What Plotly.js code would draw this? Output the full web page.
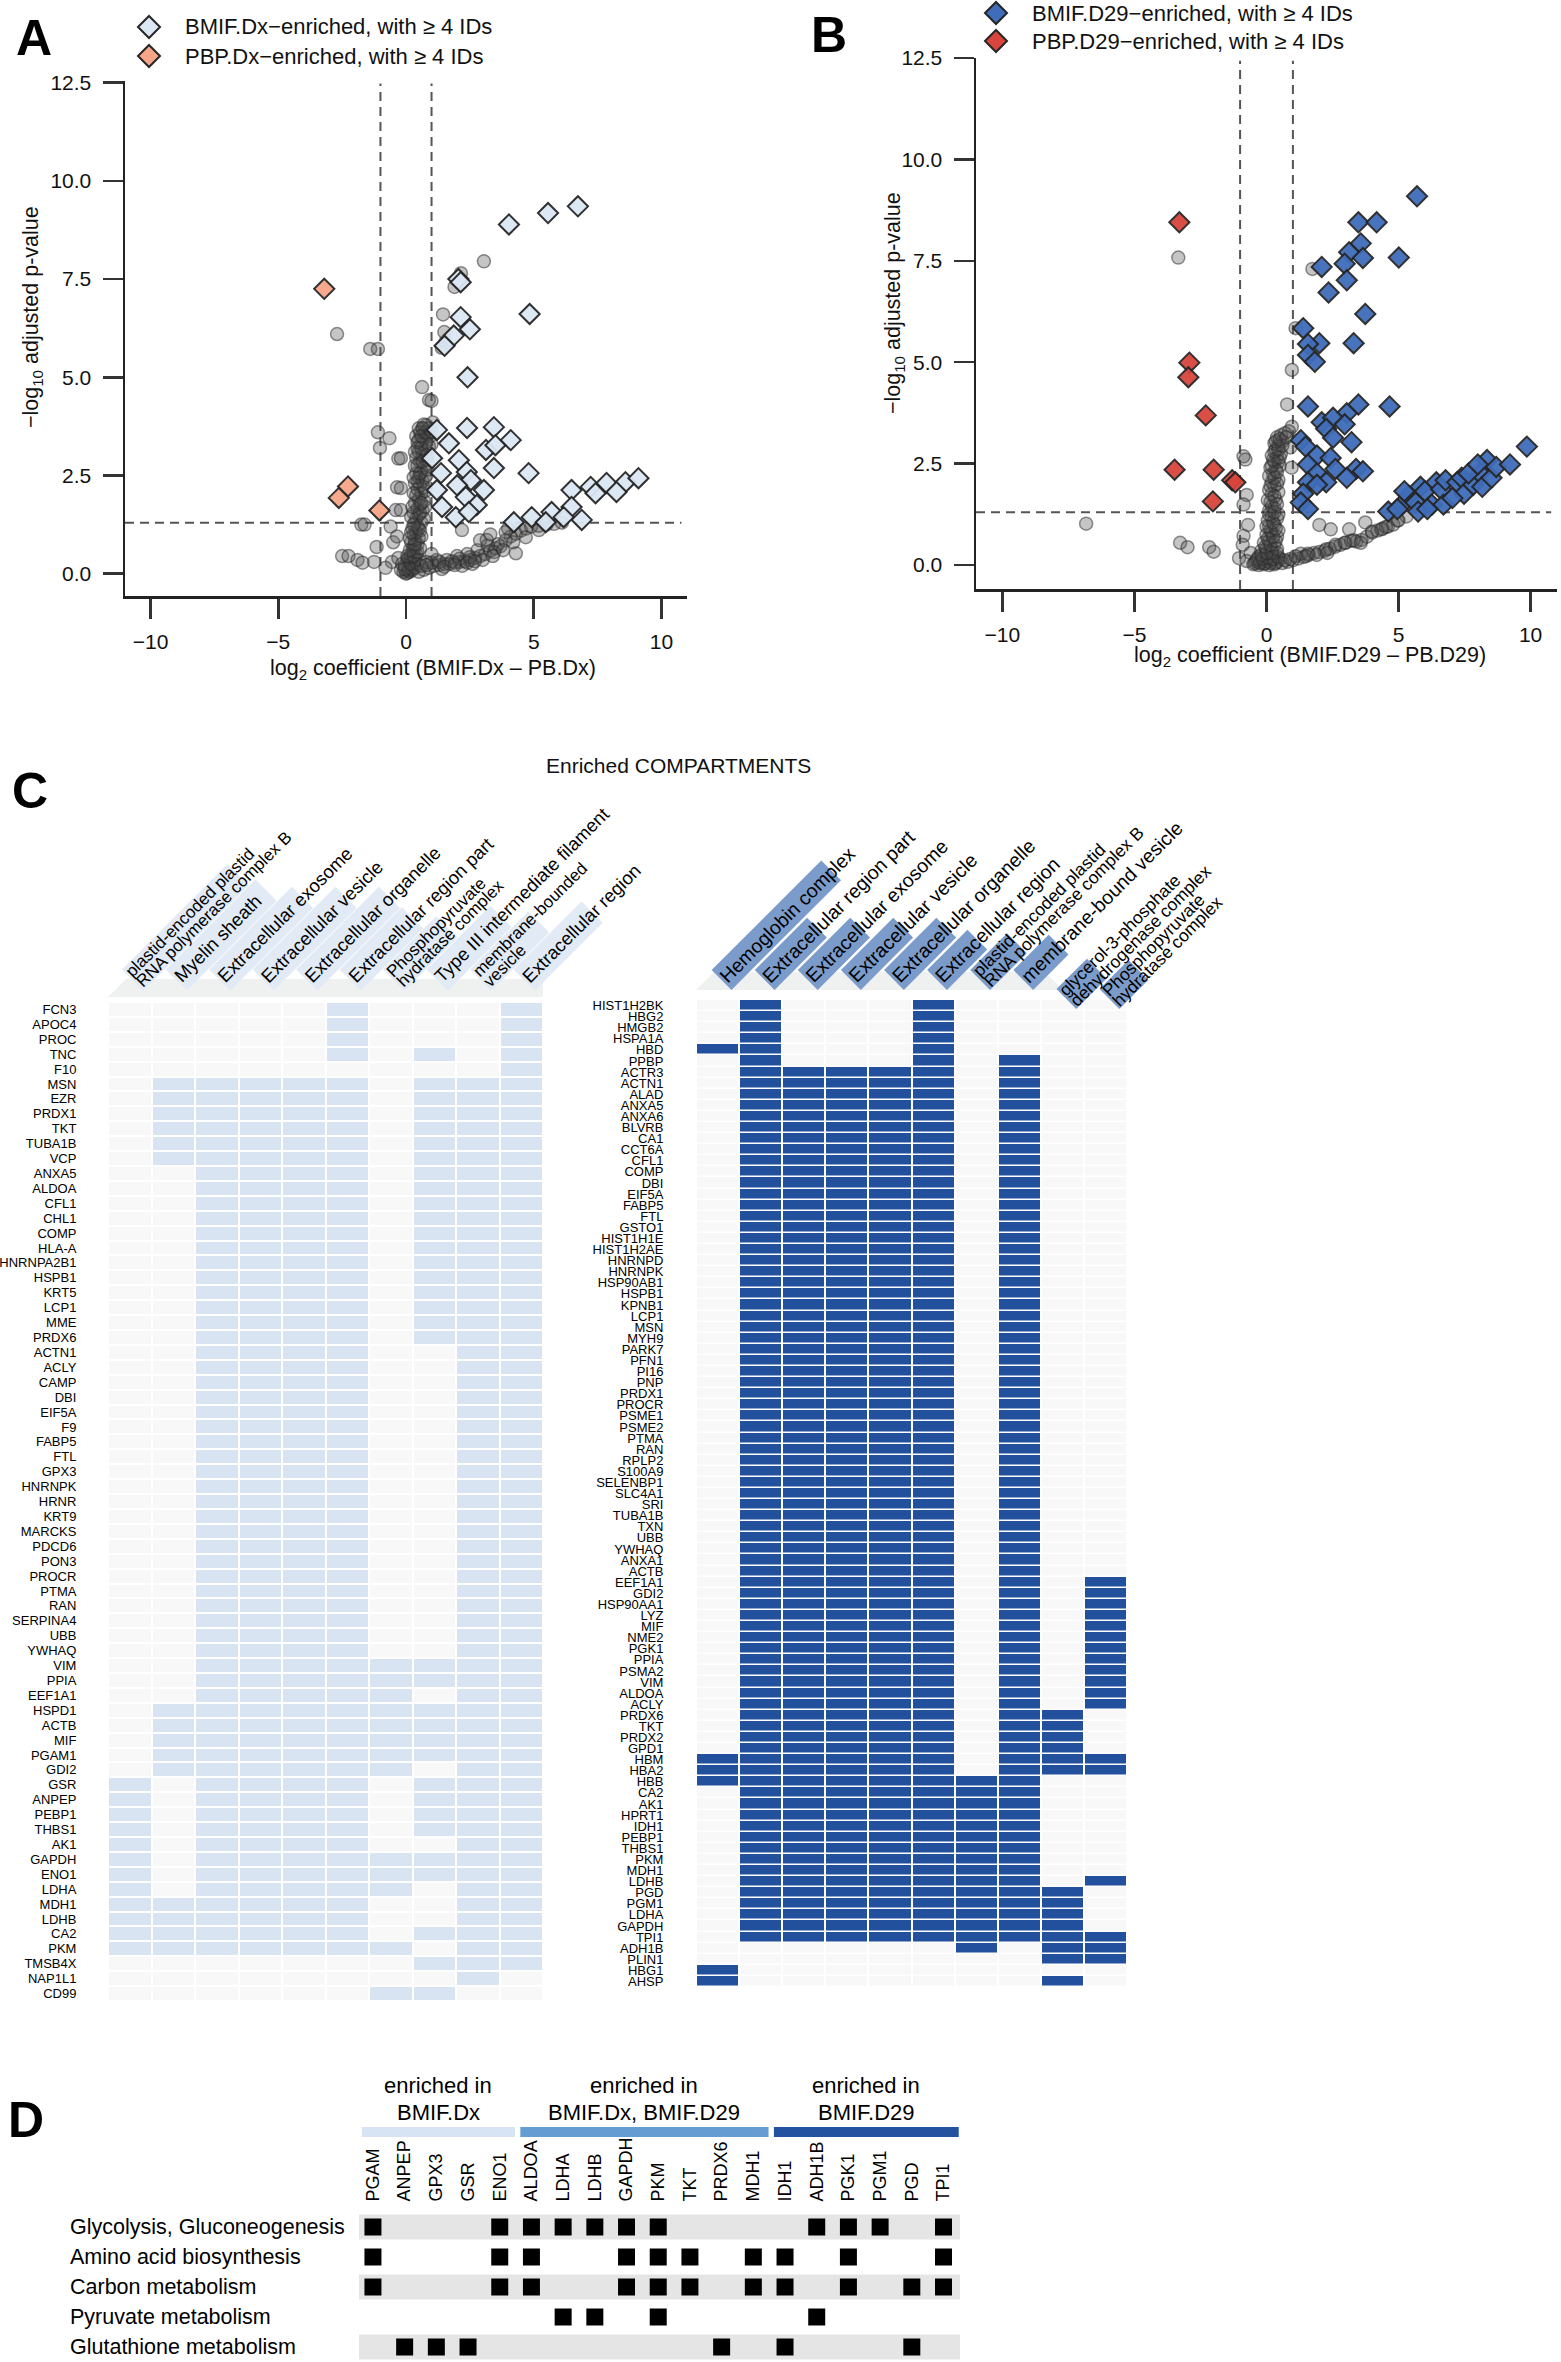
<!DOCTYPE html>
<html><head><meta charset="utf-8">
<script src="https://cdn.plot.ly/plotly-3.0.1.min.js"></script>
<style>body{margin:0;background:#fff}</style>
</head><body><div id="fig" style="width:1561px;height:2362px"></div>
<script>
const W=1561,H=2362;
const FONT='Liberation Sans, Arial, Helvetica, sans-serif';

// ---------------- Panel A data (BMIF.Dx - PB.Dx) ----------------
const aGrey=[[-2.7,6.1],[-1.4,5.72],[-1.1,5.72],[-1.1,3.6],[-1.02,3.2],[-0.65,3.45],[-0.3,2.93],[-0.35,2.2],[-0.4,1.62],[-0.2,2.94],[-0.2,2.18],[-0.2,1.62],[-1.75,1.25],[-1.62,1.25],[-1.15,0.68],[-2.5,0.45],[-2.25,0.45],[-1.9,0.35],[-1.7,0.28],[-1.25,0.3],[-0.6,1.2],[-0.5,0.8],[-0.35,0.95],[-0.55,0.3],[-0.3,0.4],[-0.8,0.15],
[0.63,4.75],[0.9,4.42],[1.0,4.4],[0.65,3.7],[0.8,3.78],[1.05,3.85],[1.45,6.6],[1.5,6.15],[1.4,5.75],[1.55,5.9],[1.9,7.3],[2.15,7.65],[3.05,7.95],
[0,0],[0.05,0.02],[-0.1,0.05],[0.15,0.05],[-0.2,0.1],[0.2,0.12],[0.1,0.15],[-0.05,0.2],[0.25,0.2],[0.3,0.28],[0.15,0.3],[0.05,0.35],[0.35,0.4],[0.2,0.45],[0.4,0.5],[0.25,0.6],[0.3,0.7],[0.45,0.75],[0.2,0.8],[0.35,0.85],[0.5,0.9],[0.3,1.0],[0.4,1.05],[0.55,1.1],[0.25,1.15],[0.45,1.2],[0.35,1.3],[0.6,1.3],[0.4,1.4],[0.5,1.5],[0.3,1.55],[0.65,1.6],[0.45,1.65],[0.55,1.75],[0.35,1.8],[0.7,1.85],[0.5,1.9],[0.4,2.0],[0.6,2.05],[0.75,2.1],[0.45,2.15],[0.55,2.25],[0.35,2.3],[0.65,2.35],[0.5,2.45],[0.8,2.5],[0.4,2.55],[0.6,2.6],[0.7,2.7],[0.45,2.75],[0.55,2.85],[0.85,2.9],[0.4,2.95],[0.65,3.0],[0.5,3.1],[0.75,3.15],[0.45,3.2],[0.9,3.25],[0.6,3.3],[0.5,3.4],[0.7,3.45],[0.4,3.5],[0.85,3.55],[0.55,3.6],[0.65,3.7],[0.95,3.5],[1.0,3.3],[0.3,0.55],[0.1,0.4],[-0.15,0.25],
[0.1,0.08],[0.25,0.1],[-0.05,0.12],[0.35,0.15],[0.45,0.25],[0.2,0.25],[0.5,0.35],[0.05,0.45],[0.3,0.45],[0.45,0.55],[0.15,0.6],[0.55,0.65],[0.35,0.75],[0.15,0.9],[0.6,0.95],[0.2,1.05],[0.5,1.15],[0.3,1.25],[0.7,1.4],[0.2,1.45],[0.55,1.55],[0.75,1.7],[0.25,1.7],[0.6,1.8],[0.3,2.05],[0.7,2.2],[0.45,2.35],[0.75,2.45],[0.3,2.45],[0.55,2.55],[0.85,2.65],[0.35,2.75],[0.65,2.85],[0.8,3.0],[0.35,3.1],[0.6,3.2],[0.8,3.35],[0.45,3.35],[0.6,3.5],[0.75,3.6],[0.5,3.7],[0.9,3.7],[1.0,3.6],[0.7,3.8],
[0.5,0.05],[0.7,0.1],[0.9,0.15],[1.1,0.2],[1.3,0.22],[1.5,0.25],[1.7,0.25],[1.9,0.28],[2.1,0.3],[2.3,0.32],[2.5,0.35],[2.7,0.4],[2.9,0.45],[3.1,0.5],[3.3,0.58],[3.5,0.65],[3.7,0.7],[3.6,0.75],[3.9,0.85],[4.1,0.95],[4.3,1.02],[4.5,1.1],[4.7,1.15],[4.9,1.2],[5.2,1.22],[5.5,1.25],[5.8,1.27],[6.1,1.3],[1.2,0.35],[1.6,0.35],[2.0,0.45],[2.4,0.5],[2.8,0.6],[3.2,0.72],[2.2,0.2],[2.6,0.25],[3.0,0.35],[4.3,0.52],[3.45,0.55],[1.0,0.5],[0.8,0.3],[2.9,0.85],[3.3,1.0],[4.0,1.15],[1.4,0.12],[2.19,1.11],[3.9,1.06],[4.69,0.93],[5.2,1.11],[3.16,0.86],
[1.0,0.28],[1.3,0.3],[1.8,0.32],[2.1,0.38],[2.5,0.42],[0.6,0.2],[0.8,0.22],[1.5,0.18],[1.9,0.22],[2.4,0.28],[2.7,0.32],[3.4,0.45],[3.8,0.6],[4.2,0.8]];
const aBMIF=[[6.73,9.35],[5.56,9.18],[4.03,8.89],[2.05,7.5],[2.14,7.42],[4.84,6.61],[2.14,6.53],[2.5,6.22],[1.87,6.06],[1.51,5.8],[2.41,5.0],
[2.39,3.71],[3.44,3.73],[4.1,3.4],[1.21,3.66],[1.68,3.32],[3.13,3.15],[3.5,3.27],[1.02,2.94],[2.07,2.89],[3.44,2.69],[2.38,2.59],[1.37,2.56],[4.8,2.56],[2.54,2.38],[2.0,2.25],[3.05,2.13],[1.21,2.13],[2.34,1.95],[1.41,1.7],[2.77,1.75],[1.95,1.44],[2.46,1.57],
[6.48,2.13],[7.23,2.21],[7.85,2.31],[8.59,2.33],[9.1,2.43],[7.42,2.05],[8.24,2.08],[4.22,1.31],[4.92,1.44],[5.7,1.57],[6.48,1.7],[6.88,1.37],[5.47,1.31],[6.17,1.44]];
const aPBP=[[-3.2,7.25],[-2.27,2.22],[-2.63,1.93],[-1.04,1.61]];

// ---------------- Panel B data (BMIF.D29 - PB.D29) ----------------
const bGrey=[[-3.34,7.58],[1.74,7.3],[1.1,5.84],[0.96,4.81],[0.78,3.96],[0.96,3.41],[-0.87,2.68],[-0.8,2.6],[-0.75,1.73],[-0.87,1.49],[-6.83,1.02],[-3.27,0.55],[-2.99,0.44],[-2.17,0.44],[-2.0,0.33],[-0.87,0.72],[-0.7,0.99],[-1.04,0.17],[-0.9,0.5],[-0.6,0.3],[-0.75,0.1],
[-0.5,0.02],[-0.3,0.0],[-0.1,0.02],[0.1,0.0],[0.3,0.02],[-0.4,0.1],[-0.2,0.08],[0,0.1],[0.2,0.12],[0.4,0.08],[-0.3,0.2],[-0.1,0.22],[0.1,0.25],[0.3,0.2],[0.5,0.15],[-0.2,0.35],[0,0.4],[0.2,0.38],[0.4,0.3],[-0.1,0.55],[0.1,0.6],[0.3,0.5],[0,0.75],[0.2,0.8],[0.4,0.7],[0.1,0.95],[0.3,1.0],[0.05,1.1],[0.2,1.2],[0.4,1.15],[0.1,1.35],[0.3,1.4],[0.15,1.55],[0.35,1.6],[0.2,1.75],[0.45,1.8],[0.1,1.85],[0.3,1.95],[0.2,2.05],[0.45,2.1],[0.25,2.25],[0.35,2.35],[0.15,2.4],[0.5,2.45],[0.3,2.55],[0.4,2.65],[0.2,2.7],[0.55,2.75],[0.35,2.85],[0.45,2.95],[0.3,3.0],[0.6,3.05],[0.4,3.15],[0.55,3.2],[0.7,3.25],[0.85,3.3],[0.9,2.9],[0.95,2.4],
[-0.45,0.05],[-0.25,0.05],[-0.05,0.05],[0.15,0.05],[0.35,0.05],[-0.35,0.15],[-0.15,0.15],[0.05,0.18],[0.25,0.15],[0.45,0.2],[-0.2,0.25],[0,0.3],[0.2,0.3],[0.4,0.4],[-0.05,0.45],[0.15,0.5],[0.35,0.6],[0.05,0.65],[0.25,0.7],[0.45,0.85],[0.15,0.85],[0.35,0.9],[0.0,0.95],[0.25,1.05],[0.45,1.25],[0.1,1.25],[0.3,1.3],[0.2,1.45],[0.4,1.5],[0.05,1.6],[0.3,1.7],[0.15,1.95],[0.4,2.0],[0.3,2.15],[0.1,2.2],[0.4,2.3],[0.2,2.45],[0.45,2.55],[0.25,2.6],[0.5,2.65],[0.3,2.8],[0.45,2.85],[0.6,2.95],[0.35,3.05],[0.5,3.1],[0.75,3.15],
[0.6,0.05],[0.8,0.08],[1.0,0.12],[1.2,0.16],[1.4,0.2],[1.6,0.25],[1.8,0.3],[2.0,0.32],[2.2,0.35],[2.4,0.4],[2.6,0.45],[2.8,0.5],[3.0,0.55],[3.2,0.6],[3.4,0.58],[3.6,0.62],[3.8,0.7],[4.0,0.8],[4.2,0.85],[4.4,0.9],[4.6,0.95],[4.8,1.0],[5.0,1.1],[5.3,1.2],[1.3,0.28],[1.57,0.28],[2.0,0.99],[2.26,0.39],[2.43,0.88],[2.61,0.5],[2.96,0.55],[3.13,0.88],[3.3,0.61],[3.57,0.55],[3.74,1.05],[4.0,0.83],[4.35,0.88],[4.52,0.94],[4.96,1.1],
[0.7,0.12],[0.9,0.15],[1.1,0.22],[1.5,0.22],[1.9,0.25],[2.3,0.3]];
const bBMIF=[[5.7,9.09],[3.48,8.45],[4.17,8.45],[3.57,7.93],[3.13,7.71],[3.65,7.57],[2.96,7.43],[2.09,7.35],[5.01,7.58],[3.04,7.02],[2.35,6.72],[3.74,6.19],[1.39,5.84],[2.0,5.47],[1.57,5.45],[3.3,5.47],[1.57,5.18],[1.83,5.01],
[1.57,3.91],[3.48,3.96],[4.66,3.91],[3.04,3.74],[2.09,3.52],[2.52,3.63],[2.96,3.47],[2.26,3.36],[1.3,3.08],[2.52,3.14],[3.22,3.03],[1.48,2.92],[1.91,2.7],[2.43,2.64],[1.57,2.48],[2.61,2.37],[3.39,2.37],[3.65,2.31],[1.91,2.26],[1.57,2.04],[2.26,2.04],[3.04,2.15],[1.39,1.76],[1.91,1.98],[1.3,1.54],[1.57,1.38],
[4.61,1.32],[5.13,1.49],[5.39,1.71],[5.65,1.54],[5.83,1.93],[5.74,1.32],[6.0,1.82],[6.26,1.49],[6.43,2.04],[6.61,1.87],[6.7,1.49],[6.78,2.09],[7.22,2.04],[7.39,2.15],[7.48,1.76],[7.83,1.98],[8.09,2.26],[8.17,1.93],[8.35,2.59],[8.52,2.15],[8.7,2.42],[9.22,2.48],[9.86,2.92],[5.22,1.82],[4.96,1.38],[6.09,1.38],[7.04,1.65],[7.65,2.26],[8.0,2.48]];
const bPBP=[[-3.3,8.45],[-2.92,4.99],[-2.96,4.63],[-2.3,3.69],[-3.48,2.35],[-2.0,2.35],[-1.3,2.09],[-1.18,2.04],[-2.03,1.57]];

const aXTicks=[-10,-5,0,5,10], aXText=['\u221210','\u22125','0','5','10'];
const aYTicks=[0,2.5,5,7.5,10,12.5], aYText=['0.0','2.5','5.0','7.5','10.0','12.5'];

// ---------------- Panel C data ----------------
const leftTerms=[["plastid-encoded plastid","RNA polymerase complex B"],["Myelin sheath"],["Extracellular exosome"],["Extracellular vesicle"],["Extracellular organelle"],["Extracellular region part"],["Phosphopyruvate","hydratase complex"],["Type III intermediate filament"],["membrane-bounded","vesicle"],["Extracellular region"]];
const leftTermScore=[14.9,12.7,11.7,11.7,11.7,8.8,7.5,9.0,8.2,9.6];
const leftGenes=["FCN3","APOC4","PROC","TNC","F10","MSN","EZR","PRDX1","TKT","TUBA1B","VCP","ANXA5","ALDOA","CFL1","CHL1","COMP","HLA-A","HNRNPA2B1","HSPB1","KRT5","LCP1","MME","PRDX6","ACTN1","ACLY","CAMP","DBI","EIF5A","F9","FABP5","FTL","GPX3","HNRNPK","HRNR","KRT9","MARCKS","PDCD6","PON3","PROCR","PTMA","RAN","SERPINA4","UBB","YWHAQ","VIM","PPIA","EEF1A1","HSPD1","ACTB","MIF","PGAM1","GDI2","GSR","ANPEP","PEBP1","THBS1","AK1","GAPDH","ENO1","LDHA","MDH1","LDHB","CA2","PKM","TMSB4X","NAP1L1","CD99"];
const leftMatrix=["0000010001","0000010001","0000010001","0000010101","0000000001",
"0111110111","0111110111","0111110111","0111110111","0111110111","0111110111",
"0011110111","0011110111","0011110111","0011110111","0011110111","0011110111","0011110111","0011110111","0011110111","0011110111","0011110111","0011110111",
"0011110011","0011110011","0011110011","0011110011","0011110011","0011110011","0011110011","0011110011","0011110011","0011110011","0011110011","0011110011","0011110011","0011110011","0011110011","0011110011","0011110011","0011110011","0011110011","0011110011","0011110011",
"0011111111","0011111111","0011111011",
"0111111111","0111111111","0111111111","0111111111","0111111011",
"1011110111","1011110111","1011110111","1011110111","1011110011",
"1011111111","1011111111","1011111011",
"1111110011","1111110011","1111110111","1111111011",
"0000000111","0000000010","0000001100"];

const rightTerms=[["Hemoglobin complex"],["Extracellular region part"],["Extracellular exosome"],["Extracellular vesicle"],["Extracellular organelle"],["Extracellular region"],["plastid-encoded plastid","RNA polymerase complex B"],["membrane-bound vesicle"],["glycerol-3-phosphate","dehydrogenase complex"],["Phosphopyruvate","hydratase complex"]];
const rightTermScore=[15.5,7.4,7.4,7.4,7.4,5.7,5.2,5.0,4.3,4.1];
const rightGenes=["HIST1H2BK","HBG2","HMGB2","HSPA1A","HBD","PPBP","ACTR3","ACTN1","ALAD","ANXA5","ANXA6","BLVRB","CA1","CCT6A","CFL1","COMP","DBI","EIF5A","FABP5","FTL","GSTO1","HIST1H1E","HIST1H2AE","HNRNPD","HNRNPK","HSP90AB1","HSPB1","KPNB1","LCP1","MSN","MYH9","PARK7","PFN1","PI16","PNP","PRDX1","PROCR","PSME1","PSME2","PTMA","RAN","RPLP2","S100A9","SELENBP1","SLC4A1","SRI","TUBA1B","TXN","UBB","YWHAQ","ANXA1","ACTB","EEF1A1","GDI2","HSP90AA1","LYZ","MIF","NME2","PGK1","PPIA","PSMA2","VIM","ALDOA","ACLY","PRDX6","TKT","PRDX2","GPD1","HBM","HBA2","HBB","CA2","AK1","HPRT1","IDH1","PEBP1","THBS1","PKM","MDH1","LDHB","PGD","PGM1","LDHA","GAPDH","TPI1","ADH1B","PLIN1","HBG1","AHSP"];
const rightMatrix=["0100010000","0100010000","0100010000","0100010000","1100010000","0100010100",
"0111110100","0111110100","0111110100","0111110100","0111110100","0111110100","0111110100","0111110100","0111110100","0111110100",
"0111110100","0111110100","0111110100","0111110100","0111110100","0111110100","0111110100","0111110100","0111110100","0111110100",
"0111110100","0111110100","0111110100","0111110100","0111110100","0111110100","0111110100","0111110100","0111110100","0111110100",
"0111110100","0111110100","0111110100","0111110100","0111110100","0111110100","0111110100","0111110100","0111110100","0111110100",
"0111110100","0111110100","0111110100","0111110100","0111110100","0111110100",
"0111110101","0111110101","0111110101","0111110101","0111110101","0111110101","0111110101","0111110101","0111110101","0111110101","0111110101","0111110101",
"0111110110","0111110110","0111110110","0111110110",
"1111110111","1111110111","1111111100",
"0111111100","0111111100","0111111100","0111111100","0111111100","0111111100","0111111100","0111111100",
"0111111101","0111111110","0111111110","0111111110","0111111110","0111111111",
"0000001011","0000000011","1000000000","1000000010"];

// ---------------- Panel D data ----------------
const dPathways=["Glycolysis, Gluconeogenesis","Amino acid biosynthesis","Carbon metabolism","Pyruvate metabolism","Glutathione metabolism"];
const dGenes=["PGAM","ANPEP","GPX3","GSR","ENO1","ALDOA","LDHA","LDHB","GAPDH","PKM","TKT","PRDX6","MDH1","IDH1","ADH1B","PGK1","PGM1","PGD","TPI1"];
const dMatrix=["1000111111000011101","1000110011101101001","1000110011101101011","0000001101000010000","0111000000010100010"];
const dGroupNames=[["enriched in","BMIF.Dx"],["enriched in","BMIF.Dx, BMIF.D29"],["enriched in","BMIF.D29"]];
const dGroupFirst=[0,5,13], dGroupLast=[4,12,18];
const dGroupColors=['#d7e4f3','#659dd2','#2353a0'];

// ---------------- helpers ----------------
const px=x=>x/W, py=y=>1-y/H;
const C=Math.SQRT1_2;
const traces=[], shapes=[], annotations=[];
const axName=(k,l)=>k===1?l:l+k;
function scat(pts,k,marker,extra){traces.push(Object.assign({type:'scatter',mode:'markers',x:pts.map(p=>p[0]),y:pts.map(p=>p[1]),xaxis:axName(k,'x'),yaxis:axName(k,'y'),marker,showlegend:false,hoverinfo:'skip'},extra||{}));}
function ann(o){annotations.push(Object.assign({xref:'paper',yref:'paper',showarrow:false,font:{family:FONT,size:21,color:'#111'}},o));}

const greyMk={symbol:'circle',size:13,color:'rgba(80,80,80,0.33)',line:{color:'rgba(40,40,40,0.5)',width:1.5}};
const dia=(col)=>({symbol:'diamond',size:15.5,color:col,opacity:0.95,line:{color:'#262626',width:2}});
const colA1='#dbe7f4', colA2='#f6a586', colB1='#3f6dba', colB2='#d9453d';

scat(aGrey,1,greyMk); scat(aBMIF,1,dia(colA1)); scat(aPBP,1,dia(colA2));
scat(bGrey,2,greyMk); scat(bBMIF,2,dia(colB1)); scat(bPBP,2,dia(colB2));

[1,2].forEach(k=>{
  const xr=axName(k,'x'), yr=axName(k,'y');
  [-1,1].forEach(v=>shapes.push({type:'line',layer:'below',xref:xr,yref:yr+' domain',x0:v,x1:v,y0:0,y1:0.995,line:{color:'#555',width:2,dash:'9px,6px'}}));
  shapes.push({type:'line',layer:'below',xref:xr+' domain',yref:yr,x0:0,x1:0.99,y0:1.3,y1:1.3,line:{color:'#555',width:2,dash:'9px,6px'}});
});

function legendKey(cx,cy,col,text){
  const r=11;
  shapes.push({type:'path',xref:'paper',yref:'paper',path:`M ${px(cx-r)},${py(cy)} L ${px(cx)},${py(cy-r)} L ${px(cx+r)},${py(cy)} L ${px(cx)},${py(cy+r)} Z`,fillcolor:col,line:{color:'#262626',width:2}});
  ann({x:px(cx+34),y:py(cy),xanchor:'left',yanchor:'middle',text:text,font:{family:FONT,size:22,color:'#111'}});
}
legendKey(149,27,colA1,'BMIF.Dx\u2212enriched, with \u2265 4 IDs');
legendKey(149,56,colA2,'PBP.Dx\u2212enriched, with \u2265 4 IDs');
legendKey(996,13,colB1,'BMIF.D29\u2212enriched, with \u2265 4 IDs');
legendKey(996,41,colB2,'PBP.D29\u2212enriched, with \u2265 4 IDs');

ann({x:px(433),y:py(669),xanchor:'center',yanchor:'middle',text:'log<sub>2</sub> coefficient (BMIF.Dx \u2013 PB.Dx)',font:{family:FONT,size:21.5,color:'#111'}});
ann({x:px(32),y:py(317),xanchor:'center',yanchor:'middle',textangle:-90,text:'\u2212log<sub>10</sub> adjusted p-value',font:{family:FONT,size:21.5,color:'#111'}});
ann({x:px(1310),y:py(657),xanchor:'center',yanchor:'middle',text:'log<sub>2</sub> coefficient (BMIF.D29 \u2013 PB.D29)',font:{family:FONT,size:21.5,color:'#111'}});
ann({x:px(895),y:py(303),xanchor:'center',yanchor:'middle',textangle:-90,text:'\u2212log<sub>10</sub> adjusted p-value',font:{family:FONT,size:21.5,color:'#111'}});

[['A',14,8],['B',809,5],['C',10,761],['D',6,2090]].forEach(([t,x,y])=>ann({x:px(x),y:py(y),xanchor:'left',yanchor:'top',text:'<b>'+t+'</b>',font:{family:FONT,size:50,color:'#000'}}));

ann({x:px(678),y:py(765),xanchor:'center',yanchor:'middle',text:'Enriched COMPARTMENTS',font:{family:FONT,size:21,color:'#111'}});

const toZ=m=>m.map(s=>s.split('').map(Number));
const idx=n=>Array.from({length:n},(_,i)=>i);
traces.push({type:'heatmap',z:toZ(leftMatrix),x:idx(10),y:idx(leftGenes.length),xaxis:'x3',yaxis:'y3',colorscale:[[0,'#f8f8f8'],[1,'#d8e4f2']],zmin:0,zmax:1,showscale:false,xgap:2,ygap:2,hoverinfo:'skip'});
traces.push({type:'heatmap',z:toZ(rightMatrix),x:idx(10),y:idx(rightGenes.length),xaxis:'x4',yaxis:'y4',colorscale:[[0,'#f8f8f8'],[1,'#23509c']],zmin:0,zmax:1,showscale:false,xgap:2,ygap:1.5,hoverinfo:'skip'});
traces.push({type:'scatter',mode:'markers',x:leftGenes.map(()=>-0.91),y:idx(leftGenes.length),xaxis:'x3',yaxis:'y3',cliponaxis:false,marker:{symbol:'triangle-left',size:14,color:'#ededed'},showlegend:false,hoverinfo:'skip'});
traces.push({type:'scatter',mode:'markers',x:rightGenes.map(()=>-0.94),y:idx(rightGenes.length),xaxis:'x4',yaxis:'y4',cliponaxis:false,marker:{symbol:'triangle-left',size:11,color:'#ededed'},showlegend:false,hoverinfo:'skip'});

shapes.push({type:'path',xref:'paper',yref:'paper',path:`M ${px(108)},${py(997)} L ${px(126)},${py(979)} L ${px(543)},${py(979)} L ${px(543)},${py(997)} Z`,fillcolor:'#eff1f0',line:{width:0}});
shapes.push({type:'path',xref:'paper',yref:'paper',path:`M ${px(696)},${py(990)} L ${px(714)},${py(972)} L ${px(1045)},${py(972)} L ${px(1063)},${py(990)} Z`,fillcolor:'#eff1f0',line:{width:0}});

function header(terms,scores,x0,cw,baseY,dx,T,boxCol,f1,f2,lowered){
  terms.forEach((lines,i)=>{
    const sx=x0+cw*(i+0.5)+dx, sy=baseY+(lowered&&lowered.includes(i)?19:0);
    const L=scores[i]*10;
    const p1=[sx-C*T/2,sy-C*T/2], p2=[sx+C*T/2,sy+C*T/2];
    const p3=[p2[0]+C*L,p2[1]-C*L], p4=[p1[0]+C*L,p1[1]-C*L];
    shapes.push({type:'path',xref:'paper',yref:'paper',path:`M ${px(p1[0])},${py(p1[1])} L ${px(p2[0])},${py(p2[1])} L ${px(p3[0])},${py(p3[1])} L ${px(p4[0])},${py(p4[1])} Z`,fillcolor:boxCol,line:{width:0}});
    const fs=lines.length>1?f2:f1;
    const g=lines.length>1?fs*0.85:0;
    lines.forEach((t,j)=>{
      const off=lines.length>1?(j===0?g/2:-g/2):0;
      const cx=sx-C*off, cy=sy-C*off;
      const hh=fs*1.2+4;
      ann({x:px(cx-C*hh/2),y:py(cy+C*hh/2),xanchor:'left',yanchor:'bottom',textangle:-45,text:t,font:{family:FONT,size:fs,color:'#000'}});
    });
  });
}
header(leftTerms,leftTermScore,108,43.5,980,3,30,'#e1eaf5',18.5,17,null);
header(rightTerms,rightTermScore,696,43.1,980,4,28,'#7b9bca',19.5,17.5,[8,9]);

dMatrix.forEach((s,r)=>{
  const pts=[]; s.split('').forEach((v,c)=>{if(v==='1')pts.push([c,r]);});
  scat(pts,5,{symbol:'square',size:17,color:'#000',line:{width:0}});
});
[0,2,4].forEach(r=>shapes.push({type:'rect',layer:'below',xref:'paper',yref:'y5',x0:px(359),x1:px(960),y0:r-0.42,y1:r+0.42,fillcolor:'#e5e5e5',line:{width:0}}));
dPathways.forEach((t,r)=>ann({x:px(68),yref:'y5',y:r,xanchor:'left',yanchor:'middle',text:t,font:{family:FONT,size:21.5,color:'#000'}}));
dGroupNames.forEach((lines,g)=>{
  const a=dGroupFirst[g]-0.35, b=dGroupLast[g]+0.48;
  shapes.push({type:'rect',xref:'x5',yref:'paper',x0:a,x1:b,y0:py(2137),y1:py(2127),fillcolor:dGroupColors[g],line:{width:0}});
  ann({xref:'x5',x:(a+b)/2,y:py(2085),xanchor:'center',yanchor:'middle',text:lines[0],font:{family:FONT,size:22,color:'#000'}});
  ann({xref:'x5',x:(a+b)/2,y:py(2112),xanchor:'center',yanchor:'middle',text:lines[1],font:{family:FONT,size:22,color:'#000'}});
});

const volAx=(dom,rng,tv,tt,isY)=>({domain:dom,range:rng,showline:true,linecolor:'#222',linewidth:2.5,ticks:'outside',ticklen:20,tickwidth:2.5,tickcolor:'#333',tickvals:tv,ticktext:tt,tickfont:{family:FONT,size:21,color:'#111'},showgrid:false,zeroline:false,ticklabelstandoff:isY?7:5,fixedrange:true});
const layout={
  width:W,height:H,margin:{l:0,r:0,t:0,b:0},paper_bgcolor:'#fff',plot_bgcolor:'#fff',
  font:{family:FONT,color:'#111'},showlegend:false,
  xaxis:Object.assign(volAx([px(125),px(687)],[-11,11],aXTicks,aXText,false),{anchor:'y'}),
  yaxis:Object.assign(volAx([py(596),py(81)],[-0.567,12.54],aYTicks,aYText,true),{anchor:'x'}),
  xaxis2:Object.assign(volAx([px(976),px(1557)],[-11,11],aXTicks,aXText,false),{anchor:'y2'}),
  yaxis2:Object.assign(volAx([py(589),py(58)],[-0.59,12.5],aYTicks,aYText,true),{anchor:'x2'}),
  xaxis3:{domain:[px(108),px(543)],range:[-0.5,9.5],anchor:'y3',showticklabels:false,showgrid:false,zeroline:false,ticks:''},
  yaxis3:{domain:[py(2001),py(1002)],range:[leftGenes.length-0.5,-0.5],anchor:'x3',tickvals:idx(leftGenes.length),ticktext:leftGenes,ticks:'outside',ticklen:28,tickcolor:'rgba(0,0,0,0)',tickfont:{family:FONT,size:13,color:'#000'},showgrid:false,zeroline:false},
  xaxis4:{domain:[px(696),px(1127)],range:[-0.5,9.5],anchor:'y4',showticklabels:false,showgrid:false,zeroline:false,ticks:''},
  yaxis4:{domain:[py(1987),py(1000)],range:[rightGenes.length-0.5,-0.5],anchor:'x4',tickvals:idx(rightGenes.length),ticktext:rightGenes,ticks:'outside',ticklen:29,tickcolor:'rgba(0,0,0,0)',tickfont:{family:FONT,size:13,color:'#000'},showgrid:false,zeroline:false},
  xaxis5:{domain:[px(359),px(960)],range:[-0.44,18.52],anchor:'y5',side:'top',tickvals:idx(dGenes.length),ticktext:dGenes,tickangle:-90,ticks:'outside',ticklen:6,tickcolor:'rgba(0,0,0,0)',tickfont:{family:FONT,size:18,color:'#000'},showgrid:false,zeroline:false},
  yaxis5:{domain:[0,150/H],range:[4.5,-0.5],anchor:'x5',showticklabels:false,showgrid:false,zeroline:false,ticks:''},
  shapes:shapes,annotations:annotations
};
Plotly.newPlot('fig',traces,layout,{staticPlot:true,displayModeBar:false});
</script></body></html>
